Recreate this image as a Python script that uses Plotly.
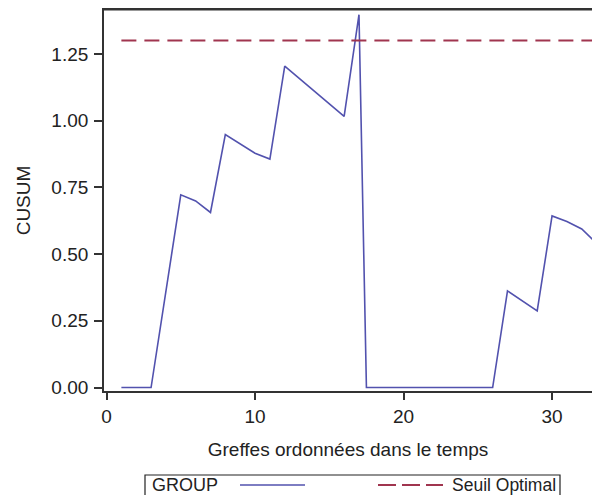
import plotly.graph_objects as go

# CUSUM series (visible vertices)
graft_x = [1, 3, 5, 6, 7, 8, 10, 11, 12, 16, 17, 17.5, 26, 27, 29, 30, 31, 32, 33]
cusum_y = [0.0, 0.0, 0.722, 0.699, 0.656, 0.948, 0.878, 0.856, 1.204, 1.016, 1.397, 0.0,
           0.0, 0.362, 0.287, 0.643, 0.622, 0.594, 0.54]

# Optimal threshold
seuil_x = [1, 33]
seuil_y = [1.30, 1.30]

x_ticks = [0, 10, 20, 30]
y_ticks = [0.0, 0.25, 0.5, 0.75, 1.0, 1.25]
y_tick_text = ["0.00", "0.25", "0.50", "0.75", "1.00", "1.25"]

legend_title = "GROUP"
legend_names = ["", "Seuil Optimal"]

FONT = "Liberation Sans, Arial, sans-serif"
TXT = "#222222"
AX = "#333333"
BLUE = "#5252AE"
RED = "#A0354F"

W, H = 592, 495
PL, PT, PB = 104, 10, 391
PW, PH = W - PL, PB - PT


def px(xp):
    return (xp - PL) / PW


def py(yp):
    return (PB - yp) / PH


fig = go.Figure()
fig.add_trace(go.Scatter(
    x=graft_x, y=cusum_y, mode="lines", name=legend_names[0],
    line=dict(color=BLUE, width=1.6), showlegend=False,
))
fig.add_trace(go.Scatter(
    x=seuil_x, y=seuil_y, mode="lines", name=legend_names[1],
    line=dict(color=RED, width=2, dash="15px,8px"), showlegend=False,
))

shapes = [
    # top frame border as a thin filled band
    dict(type="rect", xref="paper", yref="paper",
         x0=px(103), x1=1, y0=py(10.5), y1=py(8.5),
         line=dict(width=0), fillcolor=AX, layer="above"),
    # legend box (cut at the bottom edge as in the reference)
    dict(type="rect", xref="paper", yref="paper",
         x0=px(145), x1=px(560), y0=py(475), y1=py(505),
         line=dict(color="#222222", width=1.2), fillcolor="white", layer="above"),
    dict(type="line", xref="paper", yref="paper",
         x0=px(240), x1=px(305), y0=py(485), y1=py(485),
         line=dict(color=BLUE, width=1.6)),
    dict(type="line", xref="paper", yref="paper",
         x0=px(378), x1=px(443), y0=py(485), y1=py(485),
         line=dict(color=RED, width=2, dash="18px,6px")),
]
annotations = [
    dict(text=legend_title, xref="paper", yref="paper", x=px(150), y=py(485),
         xanchor="left", yanchor="middle", showarrow=False,
         font=dict(family=FONT, size=18, color=TXT)),
    dict(text=legend_names[1], xref="paper", yref="paper", x=px(450), y=py(485),
         xanchor="left", yanchor="middle", showarrow=False,
         font=dict(family=FONT, size=17.5, color=TXT)),
]

fig.update_layout(
    width=W, height=H,
    paper_bgcolor="white", plot_bgcolor="white",
    margin=dict(l=PL, r=0, t=PT, b=H - PB, autoexpand=False),
    font=dict(family=FONT, size=19, color=TXT),
    showlegend=False,
    shapes=shapes,
    annotations=annotations,
    xaxis=dict(
        range=[-0.17, 32.69],
        tickvals=x_ticks,
        ticks="outside", ticklen=7, tickwidth=1.5, tickcolor=AX,
        showline=True, linecolor=AX, linewidth=1.8, mirror=True,
        showgrid=False, zeroline=False,
        tickfont=dict(size=19, color=TXT),
        title=dict(text="Greffes ordonnées dans le temps", font=dict(size=19, color=TXT), standoff=17),
    ),
    yaxis=dict(
        range=[-0.013, 1.4147],
        tickvals=y_ticks, ticktext=y_tick_text,
        ticks="outside", ticklen=8, tickwidth=1.5, tickcolor=AX,
        showline=True, linecolor=AX, linewidth=1.8,
        showgrid=False, zeroline=False,
        tickfont=dict(size=19, color=TXT),
        ticklabelstandoff=2,
        title=dict(text="CUSUM", font=dict(size=19, color=TXT), standoff=16),
    ),
)

fig.write_html("out.html", config={"displayModeBar": False},
               post_script="document.documentElement.style.margin='0';document.body.style.margin='0';document.body.style.padding='0';")
